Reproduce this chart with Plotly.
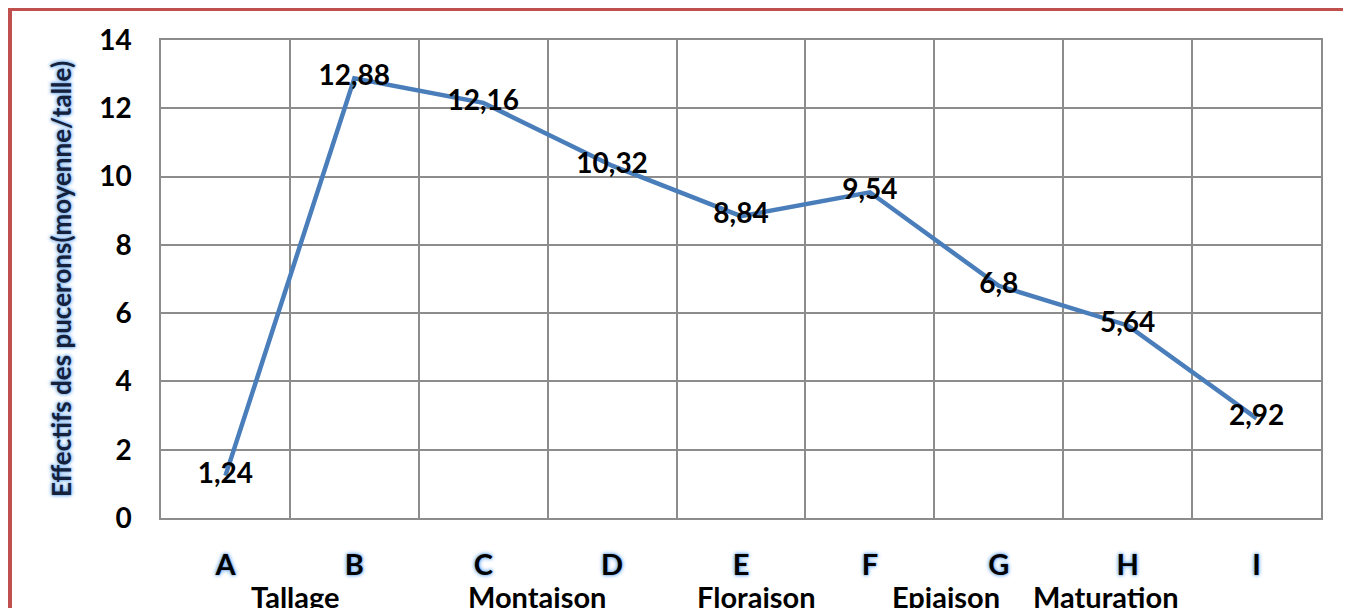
import plotly.graph_objects as go

# data
categories = ["A", "B", "C", "D", "E", "F", "G", "H", "I"]
values = [1.24, 12.88, 12.16, 10.32, 8.84, 9.54, 6.8, 5.64, 2.92]
value_labels = ["1,24", "12,88", "12,16", "10,32", "8,84", "9,54", "6,8", "5,64", "2,92"]
stages = ["Tallage", "Montaison", "Floraison", "Epiaison", "Maturation"]
stage_pos = [0.54, 2.42, 4.12, 5.59, 6.83]  # category index where each stage label sits
y_ticks = [0, 2, 4, 6, 8, 10, 12, 14]

FONT = "Lato"
GLOW = "0 0 2px #6fa8ea, 0 0 4px #8fbff2, 0 0 4px #8fbff2"

# page body has an 8px margin, so the figure is laid out 8px smaller
W, H = 1343, 600
L, R, T, B = 153, 30, 32, 90
PW, PH = W - L - R, H - T - B

fig = go.Figure()

fig.add_trace(go.Scatter(
    x=categories, y=values,
    mode="lines+text",
    line=dict(color="#4a7ebb", width=4.5),
    text=value_labels,
    textposition="middle center",
    textfont=dict(family=FONT, size=28, color="black", weight="bold"),
    hoverinfo="skip",
    cliponaxis=False,
))

for name, pos in zip(stages, stage_pos):
    fig.add_annotation(
        x=pos, y=0, xref="x", yref="paper",
        yshift=-78, yanchor="middle", text=name, showarrow=False,
        font=dict(family=FONT, size=29, color="black", weight="bold"),
    )

# red frame around the whole chart
fig.add_shape(
    type="rect", xref="paper", yref="paper",
    x0=(2 - L) / PW, x1=(1340 - L) / PW,
    y0=-0.4, y1=(PH + T - 1) / PH,
    line=dict(color="#c0504d", width=4),
)

fig.update_layout(
    width=W, height=H,
    margin=dict(l=L, r=R, t=T, b=B),
    paper_bgcolor="white", plot_bgcolor="white",
    showlegend=False,
    font=dict(family=FONT, color="black"),
    xaxis=dict(
        type="category", tickson="boundaries",
        showgrid=True, gridcolor="#8c8c8c", gridwidth=1.5,
        showline=True, linecolor="#8c8c8c", linewidth=1.5, mirror=True,
        ticks="", ticklabelstandoff=20,
        tickfont=dict(family=FONT, size=29, color="black", weight="bold", shadow=GLOW),
        range=[-0.5, 8.5],
    ),
    yaxis=dict(
        range=[0, 14], tickvals=y_ticks,
        showgrid=True, gridcolor="#8c8c8c", gridwidth=1.5,
        showline=True, linecolor="#8c8c8c", linewidth=1.5, mirror=True,
        zeroline=False, ticks="", ticklabelstandoff=22,
        tickfont=dict(family=FONT, size=28, color="black", weight="bold"),
        title=dict(
            text="Effectifs des pucerons(moyenne/talle)", standoff=20,
            font=dict(family=FONT, size=26, color="#15203a", weight="bold", shadow=GLOW),
        ),
    ),
)

fig.write_html("out.html")
